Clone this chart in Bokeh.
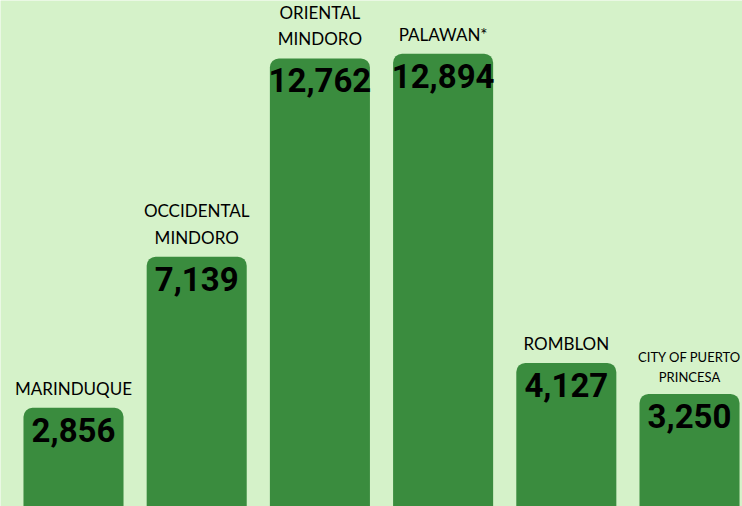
from bokeh.plotting import figure
from bokeh.models import ColumnDataSource, Range1d
from bokeh.core.properties import value
from bokeh.embed import file_html
from bokeh.resources import INLINE

provinces = ["MARINDUQUE", "OCCIDENTAL\nMINDORO", "ORIENTAL\nMINDORO", "PALAWAN*", "ROMBLON", "CITY OF PUERTO\nPRINCESA"]
counts = [2856, 7139, 12762, 12894, 4127, 3250]
count_labels = ["2,856", "7,139", "12,762", "12,894", "4,127", "3,250"]

BG = "#d5f2c9"
BAR = "#3a8c3e"

xs = list(range(len(counts)))
fs = ["17px"] * 5 + ["13px"]
src = ColumnDataSource(dict(x=xs, top=counts, name=provinces, lab=count_labels, fs=fs))

p = figure(width=742, height=506, output_backend="svg", toolbar_location=None,
           x_range=Range1d(-0.5925, 5.43), y_range=Range1d(57, 14403),
           min_border=0, background_fill_color=BG, border_fill_color=BG)
p.axis.visible = False
p.grid.visible = False
p.outline_line_color = None

p.vbar(x="x", top="top", bottom=0, width=0.812, source=src, fill_color=BAR,
       line_color=None, border_radius=(9, 9, 0, 0))

p.text(x="x", y="top", text="lab", source=src, text_align="center", text_baseline="top",
       y_offset=10, text_font=value("Roboto"), text_font_style="bold",
       text_font_size="33px", text_color="black")

p.text(x="x", y="top", text="name", source=src, text_align="center", text_baseline="bottom",
       y_offset=-9, text_font=value("Lato"), text_font_size="fs", text_color="black",
       text_line_height=1.25)

open("out.html", "w").write(file_html(p, INLINE))
